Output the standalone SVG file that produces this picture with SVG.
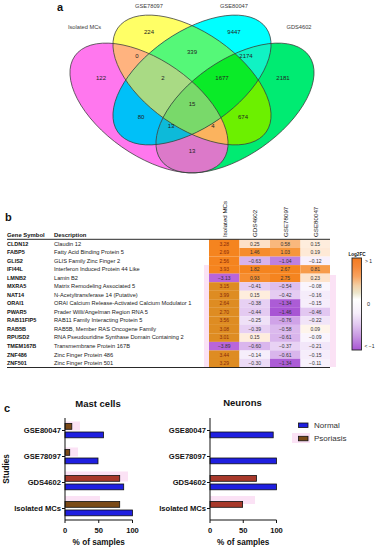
<svg xmlns="http://www.w3.org/2000/svg" width="378" height="550" viewBox="0 0 378 550">
<style>
text{font-family:"Liberation Sans",Arial,sans-serif}
.pl{font-size:11px;font-weight:bold;fill:#111}
.vl{font-size:5.7px;fill:#3a3a3a}
.vn{font-size:6px;fill:#222;text-anchor:middle}
.vo{fill:none;stroke:#3c3c3c;stroke-width:0.7}
.hd{font-size:5.9px;font-weight:bold;fill:#111}
.gs{font-size:5.5px;font-weight:bold;fill:#111}
.ds{font-size:5.7px;fill:#222}
.ch{font-size:6.2px;fill:#111}
.hv{font-size:5px;text-anchor:middle;fill:#333}
.h1{fill:#8a2a08}
.rl{stroke:#111;stroke-width:0.9}
.ax{stroke:#111;stroke-width:1;fill:none}
.al{font-size:7.6px;font-weight:bold;fill:#111}
.tt{font-size:9.5px;font-weight:bold;fill:#111;text-anchor:middle}
.nb{fill:#1f1fe0;stroke:#111;stroke-width:0.8}
.pb{fill:#7a4a18;stroke:#111;stroke-width:0.8}
.pr{fill:#a8382a;stroke:#111;stroke-width:0.8}
.pk{fill:#f9d6f1;opacity:0.7}
.lg{font-size:8px;fill:#333}
</style>
<defs>
<ellipse id="eM" cx="149" cy="108" rx="90.6" ry="47.5" transform="rotate(35 149 108)"/>
<ellipse id="eY" cx="192" cy="80" rx="90.6" ry="47.5" transform="rotate(35 192 80)"/>
<ellipse id="eC" cx="192" cy="80" rx="90.6" ry="47.5" transform="rotate(-35 192 80)"/>
<ellipse id="eG" cx="235" cy="108" rx="90.6" ry="47.5" transform="rotate(-35 235 108)"/>
<clipPath id="cM"><use href="#eM"/></clipPath>
<clipPath id="cY"><use href="#eY"/></clipPath>
<clipPath id="cC"><use href="#eC"/></clipPath>
<clipPath id="cG"><use href="#eG"/></clipPath>
<linearGradient id="cb" x1="0" y1="0" x2="0" y2="1">
<stop offset="0" stop-color="#f47a1f"/>
<stop offset="0.1" stop-color="#f6893a"/>
<stop offset="0.2" stop-color="#f8a360"/>
<stop offset="0.3" stop-color="#f3cfa5"/>
<stop offset="0.38" stop-color="#ece6cc"/>
<stop offset="0.45" stop-color="#ffffff"/>
<stop offset="0.6" stop-color="#f6eefb"/>
<stop offset="0.72" stop-color="#e2c9f1"/>
<stop offset="0.85" stop-color="#c898e2"/>
<stop offset="1" stop-color="#a855d4"/>
</linearGradient>
</defs>
<rect width="378" height="550" fill="#fff"/>

<!-- Panel a: Venn -->
<g id="venn">
<text class="pl" x="57" y="11">a</text>
<use href="#eM" fill="#ff77ee"/>
<use href="#eY" fill="#ffff66"/>
<use href="#eC" fill="#00ffff"/>
<use href="#eG" fill="#00eb72"/>
<g clip-path="url(#cM)"><use href="#eY" fill="#ffb37f"/></g>
<g clip-path="url(#cM)"><use href="#eC" fill="#00c0f8"/></g>
<g clip-path="url(#cM)"><use href="#eG" fill="#dc79c9"/></g>
<g clip-path="url(#cY)"><use href="#eC" fill="#55f878"/></g>
<g clip-path="url(#cY)"><use href="#eG" fill="#6cf000"/></g>
<g clip-path="url(#cC)"><use href="#eG" fill="#10f2c4"/></g>
<g clip-path="url(#cM)"><g clip-path="url(#cY)"><use href="#eC" fill="#a9da84"/></g></g>
<g clip-path="url(#cM)"><g clip-path="url(#cY)"><use href="#eG" fill="#fbb35e"/></g></g>
<g clip-path="url(#cM)"><g clip-path="url(#cC)"><use href="#eG" fill="#0dbad9"/></g></g>
<g clip-path="url(#cY)"><g clip-path="url(#cC)"><use href="#eG" fill="#0aeb28"/></g></g>
<g clip-path="url(#cM)"><g clip-path="url(#cY)"><g clip-path="url(#cC)"><use href="#eG" fill="#79d96a"/></g></g></g>
<use href="#eM" class="vo"/>
<use href="#eY" class="vo"/>
<use href="#eC" class="vo"/>
<use href="#eG" class="vo"/>
<text class="vl" x="84.5" y="28.7" text-anchor="middle">Isolated MCs</text>
<text class="vl" x="149" y="8" text-anchor="middle">GSE78097</text>
<text class="vl" x="234" y="8" text-anchor="middle">GSE80047</text>
<text class="vl" x="299" y="29" text-anchor="middle">GDS4602</text>
<text class="vn" x="149" y="34.1">224</text>
<text class="vn" x="234" y="34.1">9447</text>
<text class="vn" x="137" y="58.1">0</text>
<text class="vn" x="192" y="54.1">339</text>
<text class="vn" x="246" y="58.1">2174</text>
<text class="vn" x="101" y="80.1">122</text>
<text class="vn" x="163" y="80.1">2</text>
<text class="vn" x="222" y="80.1">1677</text>
<text class="vn" x="283" y="80.1">2181</text>
<text class="vn" x="192" y="106.1">15</text>
<text class="vn" x="141" y="119.1">80</text>
<text class="vn" x="243" y="119.1">674</text>
<text class="vn" x="171" y="128.1">13</text>
<text class="vn" x="213" y="128.1">4</text>
<text class="vn" x="192" y="153.1">13</text>
</g>

<!-- Panel b: table + heatmap -->
<g id="table">
<text class="pl" x="5" y="221">b</text>
<rect class="pk" x="204" y="265" width="5" height="102"/>
<rect class="pk" x="330" y="275" width="6" height="92" opacity="0.35"/>
<text class="ch" transform="translate(226.5,237) rotate(-90)">Isolated MCs</text>
<text class="ch" transform="translate(257,237) rotate(-90)">GDS4602</text>
<text class="ch" transform="translate(287.5,237) rotate(-90)">GSE78097</text>
<text class="ch" transform="translate(317.5,237) rotate(-90)">GSE80047</text>
<text class="hd" x="7" y="237">Gene Symbol</text>
<text class="hd" x="54" y="237">Description</text>

<g id="cells">
<rect x="209" y="239.5" width="30.5" height="8.6" fill="#f5841f"/><rect x="239.5" y="239.5" width="30.5" height="8.6" fill="#fde0c7"/><rect x="270" y="239.5" width="30.5" height="8.6" fill="#f9b87d"/><rect x="300.5" y="239.5" width="29.5" height="8.6" fill="#feeddd"/>
<rect x="209" y="248" width="30.5" height="8.6" fill="#f5841f"/><rect x="239.5" y="248" width="30.5" height="8.6" fill="#f68c2c"/><rect x="270" y="248" width="30.5" height="8.6" fill="#f7963a"/><rect x="300.5" y="248" width="29.5" height="8.6" fill="#fee9d6"/>
<rect x="209" y="256.6" width="30.5" height="8.6" fill="#f5841f"/><rect x="239.5" y="256.6" width="30.5" height="8.6" fill="#d8b3ec"/><rect x="270" y="256.6" width="30.5" height="8.6" fill="#be81df"/><rect x="300.5" y="256.6" width="29.5" height="8.6" fill="#f8f0fc"/>
<rect x="209" y="265.1" width="30.5" height="8.6" fill="#f5841f"/><rect x="239.5" y="265.1" width="30.5" height="8.6" fill="#f5841f"/><rect x="270" y="265.1" width="30.5" height="8.6" fill="#f5841f"/><rect x="300.5" y="265.1" width="29.5" height="8.6" fill="#f79b4a"/>
<rect x="209" y="273.6" width="30.5" height="8.6" fill="#b965da"/><rect x="239.5" y="273.6" width="30.5" height="8.6" fill="#f68d2f"/><rect x="270" y="273.6" width="30.5" height="8.6" fill="#f5841f"/><rect x="300.5" y="273.6" width="29.5" height="8.6" fill="#fde3cc"/>
<rect x="209" y="282.2" width="30.5" height="8.6" fill="#de8c22"/><rect x="239.5" y="282.2" width="30.5" height="8.6" fill="#e6cdf2"/><rect x="270" y="282.2" width="30.5" height="8.6" fill="#ddbdee"/><rect x="300.5" y="282.2" width="29.5" height="8.6" fill="#faf5fd"/>
<rect x="209" y="290.7" width="30.5" height="8.6" fill="#de8c22"/><rect x="239.5" y="290.7" width="30.5" height="8.6" fill="#feeddd"/><rect x="270" y="290.7" width="30.5" height="8.6" fill="#e5ccf2"/><rect x="300.5" y="290.7" width="29.5" height="8.6" fill="#f5ecfa"/>
<rect x="209" y="299.2" width="30.5" height="8.6" fill="#de8c22"/><rect x="239.5" y="299.2" width="30.5" height="8.6" fill="#e7d0f3"/><rect x="270" y="299.2" width="30.5" height="8.6" fill="#ac5cd6"/><rect x="300.5" y="299.2" width="29.5" height="8.6" fill="#f6edfb"/>
<rect x="209" y="307.7" width="30.5" height="8.6" fill="#de8c22"/><rect x="239.5" y="307.7" width="30.5" height="8.6" fill="#e4caf1"/><rect x="270" y="307.7" width="30.5" height="8.6" fill="#a855d4"/><rect x="300.5" y="307.7" width="29.5" height="8.6" fill="#e2c7f1"/>
<rect x="209" y="316.3" width="30.5" height="8.6" fill="#de8c22"/><rect x="239.5" y="316.3" width="30.5" height="8.6" fill="#efe1f7"/><rect x="270" y="316.3" width="30.5" height="8.6" fill="#d0a3e8"/><rect x="300.5" y="316.3" width="29.5" height="8.6" fill="#f1e4f8"/>
<rect x="209" y="324.8" width="30.5" height="8.6" fill="#de8c22"/><rect x="239.5" y="324.8" width="30.5" height="8.6" fill="#e7d0f3"/><rect x="270" y="324.8" width="30.5" height="8.6" fill="#dbb9ed"/><rect x="300.5" y="324.8" width="29.5" height="8.6" fill="#fef4eb"/>
<rect x="209" y="333.3" width="30.5" height="8.6" fill="#de8c22"/><rect x="239.5" y="333.3" width="30.5" height="8.6" fill="#feeddd"/><rect x="270" y="333.3" width="30.5" height="8.6" fill="#d9b5ec"/><rect x="300.5" y="333.3" width="29.5" height="8.6" fill="#faf4fd"/>
<rect x="209" y="341.9" width="30.5" height="8.6" fill="#b965da"/><rect x="239.5" y="341.9" width="30.5" height="8.6" fill="#dab6ed"/><rect x="270" y="341.9" width="30.5" height="8.6" fill="#e8d2f4"/><rect x="300.5" y="341.9" width="29.5" height="8.6" fill="#f2e6f9"/>
<rect x="209" y="350.4" width="30.5" height="8.6" fill="#de8c22"/><rect x="239.5" y="350.4" width="30.5" height="8.6" fill="#f6eefb"/><rect x="270" y="350.4" width="30.5" height="8.6" fill="#d9b5ec"/><rect x="300.5" y="350.4" width="29.5" height="8.6" fill="#f6edfb"/>
<rect x="209" y="358.9" width="30.5" height="8.5" fill="#de8c22"/><rect x="239.5" y="358.9" width="30.5" height="8.5" fill="#ecdbf6"/><rect x="270" y="358.9" width="30.5" height="8.5" fill="#ac5cd6"/><rect x="300.5" y="358.9" width="29.5" height="8.5" fill="#f8f2fc"/>
</g>

<g id="rows">
<text class="gs" x="7" y="245.6">CLDN12</text><text class="ds" x="54" y="245.6">Claudin 12</text>
<text class="gs" x="7" y="254.1">FABP5</text><text class="ds" x="54" y="254.1">Fatty Acid Binding Protein 5</text>
<text class="gs" x="7" y="262.6">GLIS2</text><text class="ds" x="54" y="262.6">GLIS Family Zinc Finger 2</text>
<text class="gs" x="7" y="271.2">IFI44L</text><text class="ds" x="54" y="271.2">Interferon Induced Protein 44 Like</text>
<text class="gs" x="7" y="279.7">LMNB2</text><text class="ds" x="54" y="279.7">Lamin B2</text>
<text class="gs" x="7" y="288.2">MXRA5</text><text class="ds" x="54" y="288.2">Matrix Remodeling Associated 5</text>
<text class="gs" x="7" y="296.8">NAT14</text><text class="ds" x="54" y="296.8">N-Acetyltransferase 14 (Putative)</text>
<text class="gs" x="7" y="305.3">ORAI1</text><text class="ds" x="54" y="305.3">ORAI Calcium Release-Activated Calcium Modulator 1</text>
<text class="gs" x="7" y="313.8">PWAR5</text><text class="ds" x="54" y="313.8">Prader Willi/Angelman Region RNA 5</text>
<text class="gs" x="7" y="322.3">RAB11FIP5</text><text class="ds" x="54" y="322.3">RAB11 Family Interacting Protein 5</text>
<text class="gs" x="7" y="330.9">RAB5B</text><text class="ds" x="54" y="330.9">RAB5B, Member RAS Oncogene Family</text>
<text class="gs" x="7" y="339.4">RPUSD2</text><text class="ds" x="54" y="339.4">RNA Pseudouridine Synthase Domain Containing 2</text>
<text class="gs" x="7" y="347.9">TMEM167B</text><text class="ds" x="54" y="347.9">Transmembrane Protein 167B</text>
<text class="gs" x="7" y="356.5">ZNF486</text><text class="ds" x="54" y="356.5">Zinc Finger Protein 486</text>
<text class="gs" x="7" y="365">ZNF501</text><text class="ds" x="54" y="365">Zinc Finger Protein 501</text>
</g>

<g id="values">
<text class="hv h1" x="224.25" y="245.6">3.28</text><text class="hv" x="254.75" y="245.6">0.25</text><text class="hv" x="285.25" y="245.6">0.58</text><text class="hv" x="315.25" y="245.6">0.15</text>
<text class="hv h1" x="224.25" y="254.1">2.69</text><text class="hv" x="254.75" y="254.1">1.46</text><text class="hv" x="285.25" y="254.1">1.03</text><text class="hv" x="315.25" y="254.1">0.19</text>
<text class="hv h1" x="224.25" y="262.6">2.56</text><text class="hv" x="254.75" y="262.6">−0.63</text><text class="hv" x="285.25" y="262.6">−1.04</text><text class="hv" x="315.25" y="262.6">−0.12</text>
<text class="hv h1" x="224.25" y="271.2">3.93</text><text class="hv" x="254.75" y="271.2">1.82</text><text class="hv" x="285.25" y="271.2">2.67</text><text class="hv" x="315.25" y="271.2">0.81</text>
<text class="hv" x="224.25" y="279.7">−3.13</text><text class="hv" x="254.75" y="279.7">0.93</text><text class="hv" x="285.25" y="279.7">2.75</text><text class="hv" x="315.25" y="279.7">0.23</text>
<text class="hv h1" x="224.25" y="288.2">3.15</text><text class="hv" x="254.75" y="288.2">−0.41</text><text class="hv" x="285.25" y="288.2">−0.54</text><text class="hv" x="315.25" y="288.2">−0.08</text>
<text class="hv h1" x="224.25" y="296.8">3.99</text><text class="hv" x="254.75" y="296.8">0.15</text><text class="hv" x="285.25" y="296.8">−0.42</text><text class="hv" x="315.25" y="296.8">−0.16</text>
<text class="hv h1" x="224.25" y="305.3">2.64</text><text class="hv" x="254.75" y="305.3">−0.38</text><text class="hv" x="285.25" y="305.3">−1.34</text><text class="hv" x="315.25" y="305.3">−0.15</text>
<text class="hv h1" x="224.25" y="313.8">2.70</text><text class="hv" x="254.75" y="313.8">−0.44</text><text class="hv" x="285.25" y="313.8">−1.46</text><text class="hv" x="315.25" y="313.8">−0.46</text>
<text class="hv h1" x="224.25" y="322.3">3.56</text><text class="hv" x="254.75" y="322.3">−0.25</text><text class="hv" x="285.25" y="322.3">−0.76</text><text class="hv" x="315.25" y="322.3">−0.22</text>
<text class="hv h1" x="224.25" y="330.9">3.08</text><text class="hv" x="254.75" y="330.9">−0.39</text><text class="hv" x="285.25" y="330.9">−0.58</text><text class="hv" x="315.25" y="330.9">0.09</text>
<text class="hv h1" x="224.25" y="339.4">3.01</text><text class="hv" x="254.75" y="339.4">0.15</text><text class="hv" x="285.25" y="339.4">−0.61</text><text class="hv" x="315.25" y="339.4">−0.09</text>
<text class="hv" x="224.25" y="347.9">−3.89</text><text class="hv" x="254.75" y="347.9">−0.60</text><text class="hv" x="285.25" y="347.9">−0.37</text><text class="hv" x="315.25" y="347.9">−0.21</text>
<text class="hv h1" x="224.25" y="356.5">3.44</text><text class="hv" x="254.75" y="356.5">−0.14</text><text class="hv" x="285.25" y="356.5">−0.61</text><text class="hv" x="315.25" y="356.5">−0.15</text>
<text class="hv h1" x="224.25" y="365">3.29</text><text class="hv" x="254.75" y="365">−0.30</text><text class="hv" x="285.25" y="365">−1.34</text><text class="hv" x="315.25" y="365">−0.11</text>
</g>
<line class="rl" x1="7" y1="239.3" x2="330" y2="239.3"/>
<line class="rl" x1="7" y1="367.5" x2="330" y2="367.5" stroke-width="1.2"/>
</g>

<g id="colorbar">
<rect x="352" y="258" width="9.5" height="92" fill="url(#cb)" stroke="#222" stroke-width="0.9"/>
<text x="357" y="255.5" font-size="4.6" font-weight="bold" fill="#111" text-anchor="middle">Log2FC</text>
<text x="365" y="263" font-size="5" fill="#222">&gt; 1</text>
<text x="367" y="305.5" font-size="5.5" fill="#222">0</text>
<text x="364.5" y="347.5" font-size="5" fill="#222">&lt; −1</text>
</g>

<!-- Panel c -->
<text class="pl" x="4" y="412" font-size="12">c</text>

<g id="mast">
<text class="tt" x="98" y="406.5">Mast cells</text>
<rect class="pk" x="65" y="421.5" width="15" height="9"/>
<rect class="pk" x="65" y="447.5" width="13" height="9"/>
<rect class="pk" x="65" y="471.5" width="63" height="10"/>
<rect class="pk" x="65" y="496" width="35" height="5"/>
<rect class="pb" x="65" y="423.5" width="6.8" height="5.8"/>
<rect class="nb" x="65" y="432" width="38.5" height="5.8"/>
<rect class="pb" x="65" y="449.5" width="4.7" height="5.8"/>
<rect class="nb" x="65" y="458" width="33" height="5.8"/>
<rect class="pr" x="65" y="475.5" width="54.7" height="5.8"/>
<rect class="nb" x="65" y="484" width="58.7" height="5.8"/>
<rect class="pb" x="65" y="501.5" width="54.7" height="5.8"/>
<rect class="nb" x="65" y="510" width="67.5" height="5.8"/>
<path class="ax" d="M65 418V520H132.5M62 430.5H65M62 456.5H65M62 482.5H65M62 508.5H65M65 520V523M98.75 520V523M132.5 520V523"/>
<text class="al" x="61" y="433.2" text-anchor="end">GSE80047</text>
<text class="al" x="61" y="459.2" text-anchor="end">GSE78097</text>
<text class="al" x="61" y="485.2" text-anchor="end">GDS4602</text>
<text class="al" x="61" y="511.2" text-anchor="end">Isolated MCs</text>
<text class="al" x="65" y="532.5" text-anchor="middle">0</text>
<text class="al" x="98.75" y="532.5" text-anchor="middle">50</text>
<text class="al" x="132.5" y="532.5" text-anchor="middle">100</text>
<text x="98.75" y="544.5" font-size="8.2" font-weight="bold" fill="#111" text-anchor="middle">% of samples</text>
<text transform="translate(9,469) rotate(-90)" font-size="8.2" font-weight="bold" fill="#111" text-anchor="middle">Studies</text>
</g>

<g id="neurons">
<text class="tt" x="242.5" y="405.5">Neurons</text>
<rect class="pk" x="210" y="496" width="45" height="8"/>
<rect class="nb" x="210" y="432" width="63.2" height="5.8"/>
<rect class="nb" x="210" y="458" width="66.5" height="5.8"/>
<rect class="pr" x="210" y="475.5" width="46.5" height="5.8"/>
<rect class="nb" x="210" y="484" width="66.5" height="5.8"/>
<rect class="pr" x="210" y="501.5" width="32.6" height="5.8"/>
<path class="ax" d="M210 418V520H276.5M207 430.5H210M207 456.5H210M207 482.5H210M207 508.5H210M210 520V523M243.25 520V523M276.5 520V523"/>
<text class="al" x="206" y="433.2" text-anchor="end">GSE80047</text>
<text class="al" x="206" y="459.2" text-anchor="end">GSE78097</text>
<text class="al" x="206" y="485.2" text-anchor="end">GDS4602</text>
<text class="al" x="206" y="511.2" text-anchor="end">Isolated MCs</text>
<text class="al" x="210" y="532.5" text-anchor="middle">0</text>
<text class="al" x="243.25" y="532.5" text-anchor="middle">50</text>
<text class="al" x="276.5" y="532.5" text-anchor="middle">100</text>
<text x="243.25" y="544.5" font-size="8.2" font-weight="bold" fill="#111" text-anchor="middle">% of samples</text>
</g>

<g id="legend">
<rect class="pk" x="292" y="433" width="18" height="10" opacity="0.4"/>
<rect class="nb" x="298.5" y="423" width="9.5" height="4.5"/>
<text class="lg" x="314" y="428">Normal</text>
<rect class="pb" x="298.5" y="436.3" width="9.5" height="4.5"/>
<text class="lg" x="314" y="441.3">Psoriasis</text>
</g>
</svg>
